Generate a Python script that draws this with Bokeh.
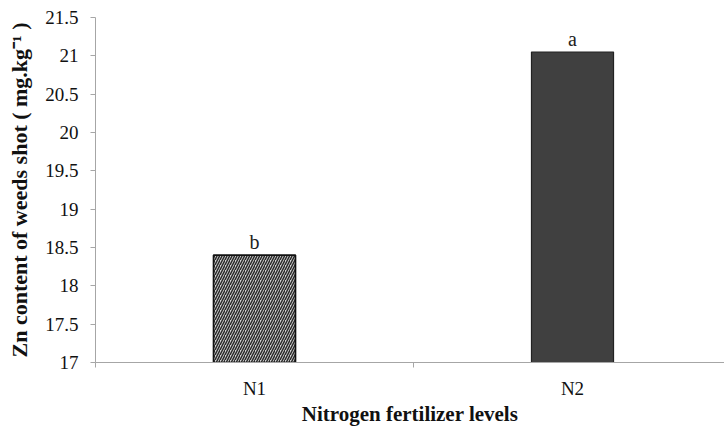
from bokeh.plotting import figure
from bokeh.models import Range1d, FixedTicker, NumeralTickFormatter, ColumnDataSource
from bokeh.core.properties import value
from bokeh.embed import file_html
from bokeh.resources import INLINE

# ---- data ----
categories = ["N1", "N2"]
cat_pos = [0.5, 1.5]
zn_values = [18.4, 21.05]
letters = ["b", "a"]
y_ticks = [17, 17.5, 18, 18.5, 19, 19.5, 20, 20.5, 21, 21.5]
x_title = "Nitrogen fertilizer levels"
y_title = "Zn content of weeds shot ( mg.kg\u207b\u00b9 )"

FONT = "Liberation Serif"
AXIS_GRAY = "#a6a6a6"

p = figure(width=724, height=428, output_backend="svg", toolbar_location=None,
           x_range=Range1d(0, 1.978), y_range=Range1d(17, 21.5),
           min_border_left=95, min_border_right=0, min_border_top=17,
           min_border_bottom=60)
p.outline_line_color = None
p.xgrid.visible = False
p.ygrid.visible = False
p.background_fill_color = "white"
p.border_fill_color = "white"

# N1: hatched bar
p.vbar(x=[cat_pos[0]], top=[zn_values[0]], bottom=17, width=0.258,
       fill_color="#d4d4d4", hatch_pattern="/", hatch_color="#2b2b2b",
       hatch_scale=5, hatch_weight=1.5, line_color="#111111", line_width=1.6)
# N2: dark solid bar
p.vbar(x=[cat_pos[1]], top=[zn_values[1]], bottom=17, width=0.258,
       fill_color="#404040", line_color="#222222", line_width=1.2)

src = ColumnDataSource(dict(x=cat_pos, y=zn_values, t=letters))
p.text(x="x", y="y", text="t", source=src, y_offset=-13,
       text_align="center", text_baseline="alphabetic",
       text_font=value(FONT), text_font_size="20px", text_color="#222222")

# y axis
p.yaxis.ticker = FixedTicker(ticks=y_ticks)
p.yaxis.formatter = NumeralTickFormatter(format="0.[0]")
p.yaxis.axis_line_color = AXIS_GRAY
p.yaxis.major_tick_line_color = AXIS_GRAY
p.yaxis.major_tick_out = 5
p.yaxis.major_tick_in = 0
p.yaxis.minor_tick_line_color = None
p.yaxis.major_label_text_font = FONT
p.yaxis.major_label_text_font_size = "19px"
p.yaxis.major_label_text_color = "#111111"
p.yaxis.major_label_standoff = 12
p.yaxis.axis_label = y_title
p.yaxis.axis_label_text_font = FONT
p.yaxis.axis_label_text_font_style = "bold"
p.yaxis.axis_label_text_font_size = "22px"
p.yaxis.axis_label_text_color = "#111111"
p.yaxis.axis_label_standoff = 10

# x axis
p.xaxis.ticker = FixedTicker(ticks=cat_pos, minor_ticks=[0.0, 1.0])
p.xaxis.major_label_overrides = {cat_pos[i]: categories[i] for i in range(len(categories))}
p.xaxis.axis_line_color = AXIS_GRAY
p.xaxis.major_tick_line_color = None
p.xaxis.major_tick_out = 0
p.xaxis.major_tick_in = 0
p.xaxis.minor_tick_line_color = AXIS_GRAY
p.xaxis.minor_tick_out = 5
p.xaxis.minor_tick_in = 0
p.xaxis.major_label_text_font = FONT
p.xaxis.major_label_text_font_size = "19px"
p.xaxis.major_label_text_color = "#111111"
p.xaxis.major_label_standoff = 10
p.xaxis.axis_label = x_title
p.xaxis.axis_label_text_font = FONT
p.xaxis.axis_label_text_font_style = "bold"
p.xaxis.axis_label_text_font_size = "21px"
p.xaxis.axis_label_text_color = "#111111"
p.xaxis.axis_label_standoff = 0

open("out.html", "w").write(file_html(p, INLINE))
